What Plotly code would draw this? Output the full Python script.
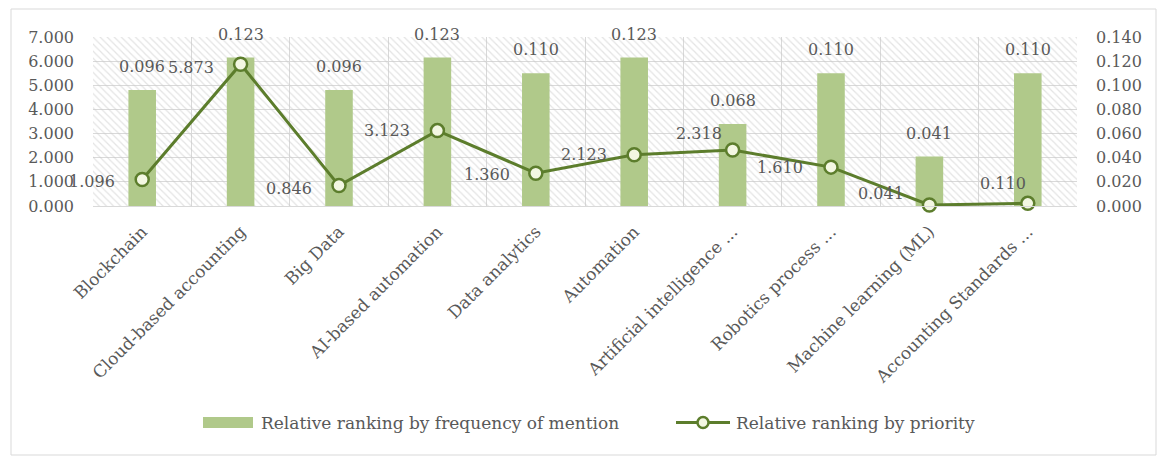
import plotly.graph_objects as go

categories = [
    "Blockchain",
    "Cloud-based accounting",
    "Big Data",
    "AI-based automation",
    "Data analytics",
    "Automation",
    "Artificial intelligence ...",
    "Robotics process ...",
    "Machine learning (ML)",
    "Accounting Standards ...",
]
frequency_rank = [0.096, 0.123, 0.096, 0.123, 0.110, 0.123, 0.068, 0.110, 0.041, 0.110]
priority_rank = [1.096, 5.873, 0.846, 3.123, 1.360, 2.123, 2.318, 1.610, 0.041, 0.110]

left_ticks = [0, 1, 2, 3, 4, 5, 6, 7]
right_ticks = [0, 0.02, 0.04, 0.06, 0.08, 0.10, 0.12, 0.14]

bar_name = "Relative ranking by frequency of mention"
line_name = "Relative ranking by priority"

# label offsets (px) for the priority labels: right edge left of the point, and lift
label_dx = [-25, -25, -25, -25, -24, -25, -9, -26, -23, 0]
label_dy = [-2, -3, -3, 0, -1, 0, 17, 0, 12, 20]

FONT = "DejaVu Serif"
GREY = "#595959"
BAR = "#b0c98a"
LINE = "#5c7d2c"
MARK_FILL = "#f3f7e2"

L, R, T, B = 93, 1077, 37, 206
W, H = 1159, 457


def px_x(p):
    return (p - L) / (R - L)


def px_y(p):
    return (B - p) / (B - T)


fig = go.Figure()

# hatched plot-area background
fig.add_trace(go.Bar(
    x=[categories[0]], y=[right_ticks[-1]],
    width=[len(categories)], offset=-0.5,
    marker=dict(color="rgba(0,0,0,0)", line=dict(width=0),
                pattern=dict(shape="\\", fgcolor="#c9c9c9", bgcolor="rgba(0,0,0,0)",
                             size=5, solidity=0.25)),
    showlegend=False, hoverinfo="skip", yaxis="y",
))

fig.add_trace(go.Bar(
    x=categories, y=frequency_rank, name=bar_name,
    marker=dict(color=BAR, line=dict(width=0)), width=0.28, yaxis="y",
    showlegend=False,
))

fig.add_trace(go.Scatter(
    x=categories, y=priority_rank, name=line_name,
    mode="lines+markers",
    line=dict(color=LINE, width=3),
    marker=dict(symbol="circle", size=13, color=MARK_FILL, line=dict(color=LINE, width=2.5)),
    yaxis="y2", cliponaxis=False, showlegend=False,
))

# value labels above the bars
for c, v in zip(categories, frequency_rank):
    fig.add_annotation(
        x=c, y=v, xref="x", yref="y", text=f"{v:.3f}", showarrow=False,
        yanchor="bottom", yshift=12, font=dict(family=FONT, size=16, color=GREY),
    )

# value labels beside the line points
for c, v, dx, dy in zip(categories, priority_rank, label_dx, label_dy):
    fig.add_annotation(
        x=c, y=v, xref="x", yref="y2", text=f"{v:.3f}", showarrow=False,
        xanchor="right", yanchor="middle", xshift=dx, yshift=dy,
        font=dict(family=FONT, size=16, color=GREY),
    )

# chart border
fig.add_shape(type="rect", xref="paper", yref="paper",
              x0=px_x(11), x1=px_x(1156), y0=px_y(455), y1=px_y(9),
              line=dict(color="#d9d9d9", width=1), layer="below")

# legend
ly = px_y(422.5)
fig.add_shape(type="rect", xref="paper", yref="paper",
              x0=px_x(203), x1=px_x(253), y0=px_y(428), y1=px_y(417),
              fillcolor=BAR, line=dict(width=0))
fig.add_annotation(x=px_x(259), y=ly, xref="paper", yref="paper", text=bar_name,
                   showarrow=False, xanchor="left", yanchor="middle",
                   font=dict(family=FONT, size=17, color=GREY))
fig.add_shape(type="line", xref="paper", yref="paper",
              x0=px_x(676), x1=px_x(730), y0=ly, y1=ly,
              line=dict(color=LINE, width=3))
fig.add_shape(type="circle", xref="paper", yref="paper",
              x0=px_x(697.5), x1=px_x(708.5), y0=px_y(428), y1=px_y(417),
              fillcolor=MARK_FILL, line=dict(color=LINE, width=2.5))
fig.add_annotation(x=px_x(734), y=ly, xref="paper", yref="paper", text=line_name,
                   showarrow=False, xanchor="left", yanchor="middle",
                   font=dict(family=FONT, size=17, color=GREY))

fig.update_layout(
    width=W, height=H,
    margin=dict(l=L, r=W - R, t=T, b=H - B),
    paper_bgcolor="white", plot_bgcolor="white",
    barmode="overlay",
    font=dict(family=FONT, size=16, color=GREY),
    showlegend=False,
    xaxis=dict(type="category", tickson="boundaries", showgrid=True, gridcolor="#d9d9d9",
               tickangle=-45, ticks="", showline=True, linecolor="#d9d9d9",
               ticklabelstandoff=8,
               tickfont=dict(family=FONT, size=17, color=GREY), range=[-0.5, 9.5]),
    yaxis=dict(side="right", range=[0, right_ticks[-1]], tickvals=right_ticks,
               tickformat=".3f", showgrid=True, gridcolor="#d9d9d9", zeroline=False,
               tickfont=dict(family=FONT, size=16, color=GREY), ticks="", ticklabelstandoff=18),
    yaxis2=dict(side="left", overlaying="y", range=[0, left_ticks[-1]], tickvals=left_ticks,
                tickformat=".3f", showgrid=False, zeroline=False,
                tickfont=dict(family=FONT, size=16, color=GREY), ticks="", ticklabelstandoff=18),
)

fig.write_html("out.html")
